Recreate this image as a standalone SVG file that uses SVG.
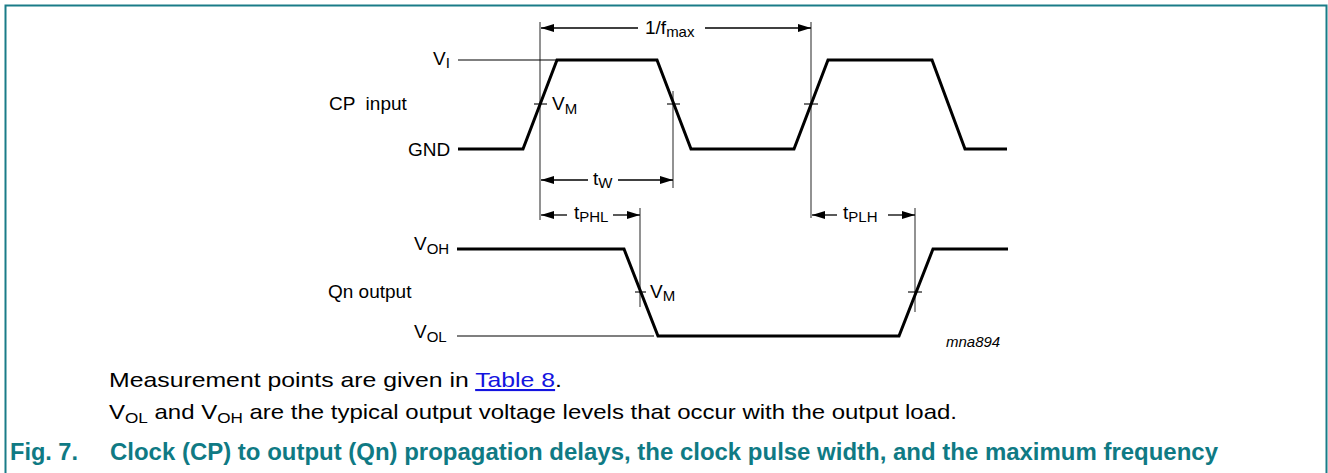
<svg xmlns="http://www.w3.org/2000/svg" width="1328" height="473" viewBox="0 0 1328 473">
<style>
.lbl{font-family:"Liberation Sans",Arial,sans-serif;font-size:19px;fill:#000}
.sub{font-size:15px}
.wave{fill:none;stroke:#000;stroke-width:3;stroke-linejoin:miter}
.thin{fill:none;stroke:#000;stroke-width:1.2}
.ref{fill:none;stroke:#777;stroke-width:1.6}
.tick{fill:none;stroke:#000;stroke-width:1.1}
.dim{fill:none;stroke:#000;stroke-width:1.3}
.body{font-family:"Liberation Sans",Arial,sans-serif;font-size:21px;fill:#000}
.cap{font-family:"Liberation Sans",Arial,sans-serif;font-size:23px;font-weight:bold;fill:#0f7a84}
</style>
<defs>
<marker id="ah" markerWidth="13" markerHeight="8" refX="13" refY="4" orient="auto" markerUnits="userSpaceOnUse">
<path d="M0,0 L13,4 L0,8 z" fill="#000"/>
</marker>
</defs>
<rect width="1328" height="473" fill="#fff"/>
<path d="M5.5,473 V5.5 H1326.5 V473" fill="none" stroke="#1a7c88" stroke-width="2"/>

<g id="reference-lines">
<line class="ref" x1="540" y1="22" x2="540" y2="220"/>
<line class="ref" x1="811" y1="22" x2="811" y2="218"/>
<line class="ref" x1="673" y1="91" x2="673" y2="188"/>
<line class="ref" x1="640" y1="208" x2="640" y2="307"/>
<line class="ref" x1="915" y1="208" x2="915" y2="312"/>
</g>

<g id="cp-input">
<line class="thin" x1="458" y1="60" x2="556" y2="60"/>
<polyline class="wave" points="458,149 523,149 557,60 657,60 691,149 794,149 828,60 932,60 965,149 1007,149"/>
<line class="tick" x1="534" y1="104" x2="547" y2="104"/>
<line class="tick" x1="667" y1="104" x2="680" y2="104"/>
<line class="tick" x1="804" y1="104" x2="818" y2="104"/>
<text class="lbl" x="329" y="110" xml:space="preserve">CP  input</text>
<text class="lbl" x="433" y="65">V<tspan class="sub" dy="3">I</tspan></text>
<text class="lbl" x="408" y="155.5">GND</text>
<text class="lbl" x="552" y="110">V<tspan class="sub" dy="3.5">M</tspan></text>
</g>

<g id="qn-output">
<line class="thin" x1="457" y1="336" x2="654" y2="336"/>
<polyline class="wave" points="457,249 624,249 658,336 899,336 933,249 1008,249"/>
<line class="tick" x1="635" y1="292" x2="646" y2="292"/>
<line class="tick" x1="908" y1="292" x2="922" y2="292"/>
<text class="lbl" x="328" y="298">Qn output</text>
<text class="lbl" x="414" y="250">V<tspan class="sub" dy="4">OH</tspan></text>
<text class="lbl" x="414" y="338">V<tspan class="sub" dy="4">OL</tspan></text>
<text class="lbl" x="650" y="298">V<tspan class="sub" dy="3">M</tspan></text>
<text class="lbl" x="946" y="347" style="font-size:15px;font-style:italic">mna894</text>
</g>

<g id="connectors">
<line class="dim" x1="638" y1="28" x2="541" y2="28" marker-end="url(#ah)"/>
<line class="dim" x1="705" y1="28" x2="811" y2="28" marker-end="url(#ah)"/>
<line class="dim" x1="588" y1="180" x2="541" y2="180" marker-end="url(#ah)"/>
<line class="dim" x1="618" y1="180" x2="673" y2="180" marker-end="url(#ah)"/>
<line class="dim" x1="567" y1="215" x2="541" y2="215" marker-end="url(#ah)"/>
<line class="dim" x1="613" y1="215" x2="640" y2="215" marker-end="url(#ah)"/>
<line class="dim" x1="837" y1="215" x2="812" y2="215" marker-end="url(#ah)"/>
<line class="dim" x1="888" y1="215" x2="915" y2="215" marker-end="url(#ah)"/>
</g>

<g id="dimension-labels">
<text class="lbl" x="645" y="33.5">1/f<tspan class="sub" dy="3.5">max</tspan></text>
<text class="lbl" x="593" y="185">t<tspan class="sub" dy="2.5">W</tspan></text>
<text class="lbl" x="574" y="219">t<tspan class="sub" dy="3">PHL</tspan></text>
<text class="lbl" x="843" y="219">t<tspan class="sub" dy="3">PLH</tspan></text>
</g>

<g id="notes">
<text class="body" x="109" y="387" textLength="453" lengthAdjust="spacingAndGlyphs">Measurement points are given in <tspan fill="#1414e0" text-decoration="underline">Table 8</tspan>.</text>
<text class="body" x="109" y="419" textLength="848" lengthAdjust="spacingAndGlyphs">V<tspan font-size="15" dy="4">OL</tspan><tspan dy="-4"> and V</tspan><tspan font-size="15" dy="4">OH</tspan><tspan dy="-4"> are the typical output voltage levels that occur with the output load.</tspan></text>
</g>

<g id="caption">
<text class="cap" x="10" y="460" textLength="68" lengthAdjust="spacingAndGlyphs">Fig. 7.</text>
<text class="cap" x="110" y="460" textLength="1108" lengthAdjust="spacingAndGlyphs">Clock (CP) to output (Qn) propagation delays, the clock pulse width, and the maximum frequency</text>
</g>
</svg>
